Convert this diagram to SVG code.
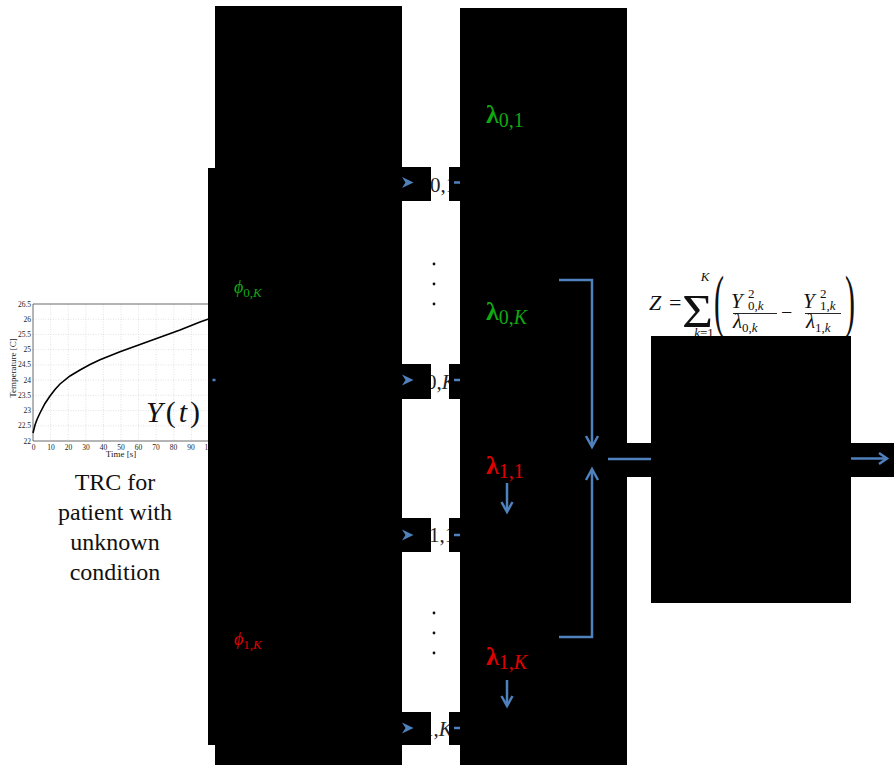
<svg xmlns="http://www.w3.org/2000/svg" width="894" height="765" viewBox="0 0 894 765">
<style>
.blk{fill:#000}
.bl{stroke:#4F81BD;stroke-width:2.5;fill:none;stroke-linecap:butt}
.blf{fill:#4F81BD}
.grid{stroke:#cfcfcf;stroke-width:0.6;stroke-dasharray:1 1.5}
.tick{font-size:7.5px;fill:#222}
.g{fill:#12a812}
.r{fill:#e00000}
.lab{font-size:21px;fill:#222}
</style>
<rect width="894" height="765" fill="#fff"/>

<g id="chart" font-family="'Liberation Serif', 'Times New Roman', serif">
  <g class="grid">
    <line x1="50.6" y1="304" x2="50.6" y2="441"/>
    <line x1="68.2" y1="304" x2="68.2" y2="441"/>
    <line x1="85.8" y1="304" x2="85.8" y2="441"/>
    <line x1="103.4" y1="304" x2="103.4" y2="441"/>
    <line x1="121" y1="304" x2="121" y2="441"/>
    <line x1="138.6" y1="304" x2="138.6" y2="441"/>
    <line x1="156.2" y1="304" x2="156.2" y2="441"/>
    <line x1="173.8" y1="304" x2="173.8" y2="441"/>
    <line x1="191.4" y1="304" x2="191.4" y2="441"/>
    <line x1="33" y1="319.2" x2="210" y2="319.2"/>
    <line x1="33" y1="334.4" x2="210" y2="334.4"/>
    <line x1="33" y1="349.7" x2="210" y2="349.7"/>
    <line x1="33" y1="364.9" x2="210" y2="364.9"/>
    <line x1="33" y1="380.1" x2="210" y2="380.1"/>
    <line x1="33" y1="395.3" x2="210" y2="395.3"/>
    <line x1="33" y1="410.6" x2="210" y2="410.6"/>
    <line x1="33" y1="425.8" x2="210" y2="425.8"/>
  </g>
  <path d="M33,304 H210 M33,304 V441 H210" stroke="#444" stroke-width="0.8" fill="none"/>
  <path d="M33,433 L35,425 L37,419.5 L40,413 L45,403.5 L50,396 L55,389.5 L60,384 L70,376 L80,370 L90,364.5 L100,359.8 L120,351.8 L140,344.5 L160,337.3 L180,330 L200,322 L210,318.5" stroke="#000" stroke-width="1.6" fill="none"/>
  <g class="tick" text-anchor="end">
    <text x="31" y="306.5">26.5</text>
    <text x="31" y="321.7">26</text>
    <text x="31" y="336.9">25.5</text>
    <text x="31" y="352.2">25</text>
    <text x="31" y="367.4">24.5</text>
    <text x="31" y="382.6">24</text>
    <text x="31" y="397.8">23.5</text>
    <text x="31" y="413.1">23</text>
    <text x="31" y="428.3">22.5</text>
    <text x="31" y="443.5">22</text>
  </g>
  <g class="tick" text-anchor="middle">
    <text x="33.5" y="449.5">0</text>
    <text x="51" y="449.5">10</text>
    <text x="68.5" y="449.5">20</text>
    <text x="86" y="449.5">30</text>
    <text x="103.5" y="449.5">40</text>
    <text x="121" y="449.5">50</text>
    <text x="138.5" y="449.5">60</text>
    <text x="156" y="449.5">70</text>
    <text x="173.5" y="449.5">80</text>
    <text x="191" y="449.5">90</text>
    <text x="210" y="449.5">100</text>
  </g>
  <text x="121" y="457" font-size="9" fill="#222" text-anchor="middle">Time [s]</text>
  <text transform="translate(16,368) rotate(-90)" font-size="9" fill="#222" text-anchor="middle">Temperature [C]</text>
  <text x="146" y="422" font-size="30" fill="#111" textLength="54" lengthAdjust="spacing"><tspan font-style="italic">Y</tspan>(<tspan font-style="italic">t</tspan>)</text>
</g>

<g id="caption" font-family="'Liberation Serif', 'Times New Roman', serif" font-size="24" fill="#111" text-anchor="middle">
  <text x="115" y="490">TRC for</text>
  <text x="115" y="520">patient with</text>
  <text x="115" y="550">unknown</text>
  <text x="115" y="580">condition</text>
</g>

<g id="partial-labels" class="lab" font-family="'Liberation Serif', 'Times New Roman', serif">
  <text x="430" y="192">0,1</text>
  <text x="426" y="389">0,<tspan font-style="italic">K</tspan></text>
  <text x="429" y="542">1,1</text>
  <text x="423" y="736">1,<tspan font-style="italic">K</tspan></text>
</g>

<g id="formula" font-family="'Liberation Serif', 'Times New Roman', serif" fill="#111">
  <text font-size="22"><tspan x="649" y="310" font-style="italic">Z</tspan><tspan x="669" y="310">=</tspan></text>
  <text x="682" y="327" font-size="46" textLength="31" lengthAdjust="spacingAndGlyphs">Σ</text>
  <text x="705" y="281" font-size="13" font-style="italic" text-anchor="middle">K</text>
  <text x="704" y="337" font-size="13" text-anchor="middle"><tspan font-style="italic">k</tspan>=1</text>
  <text x="714" y="324" font-size="70" textLength="10" lengthAdjust="spacingAndGlyphs">(</text>
  <text x="731" y="308" font-size="21" font-style="italic">Y<tspan x="748" y="298" font-size="13" font-style="normal">2</tspan><tspan x="748" y="310" font-size="13" font-style="normal">0,<tspan font-style="italic">k</tspan></tspan></text>
  <line x1="733" y1="313.5" x2="777" y2="313.5" stroke="#111" stroke-width="0.9"/>
  <text x="733" y="328" font-size="21" font-style="italic">λ<tspan font-size="13" font-style="normal" dy="4">0,<tspan font-style="italic">k</tspan></tspan></text>
  <text x="781" y="319" font-size="20">−</text>
  <text x="803" y="308" font-size="21" font-style="italic">Y<tspan x="820" y="298" font-size="13" font-style="normal">2</tspan><tspan x="820" y="310" font-size="13" font-style="normal">1,<tspan font-style="italic">k</tspan></tspan></text>
  <line x1="805" y1="313.5" x2="841" y2="313.5" stroke="#111" stroke-width="0.9"/>
  <text x="806" y="328" font-size="21" font-style="italic">λ<tspan font-size="13" font-style="normal" dy="4">1,<tspan font-style="italic">k</tspan></tspan></text>
  <text x="845" y="324" font-size="70" textLength="10" lengthAdjust="spacingAndGlyphs">)</text>
</g>

<g id="node-phi" font-family="'Liberation Serif', 'Times New Roman', serif">
  <rect class="blk" x="215" y="6" width="187" height="759"/>
  <rect class="blk" x="208" y="168" width="194" height="577"/>
  <text x="234" y="293" class="g" font-size="18" font-style="italic">ϕ<tspan font-size="13" dy="4" font-style="normal">0,<tspan font-style="italic">K</tspan></tspan></text>
  <text x="234" y="645" class="r" font-size="18" font-style="italic">ϕ<tspan font-size="13" dy="4" font-style="normal">1,<tspan font-style="italic">K</tspan></tspan></text>
</g>

<g id="node-lambda" font-family="'Liberation Serif', 'Times New Roman', serif">
  <rect class="blk" x="460" y="8" width="167" height="757"/>
  <text x="486" y="123" class="g" font-size="26" font-weight="bold">λ<tspan font-size="20" font-weight="normal" dy="4">0,1</tspan></text>
  <text x="486" y="320" class="g" font-size="26" font-weight="bold">λ<tspan font-size="20" font-weight="normal" dy="4">0,<tspan font-style="italic">K</tspan></tspan></text>
  <text x="486" y="474" class="r" font-size="26" font-weight="bold">λ<tspan font-size="20" font-weight="normal" dy="4">1,1</tspan></text>
  <text x="486" y="665" class="r" font-size="26" font-weight="bold">λ<tspan font-size="20" font-weight="normal" dy="4">1,<tspan font-style="italic">K</tspan></tspan></text>
</g>

<g id="node-sum">
  <rect class="blk" x="651" y="336" width="200" height="267"/>
</g>

<g id="ports">
  <rect class="blk" x="402" y="167" width="29" height="34"/>
  <rect class="blk" x="449" y="167" width="11" height="34"/>
  <rect class="blk" x="402" y="364" width="29" height="35"/>
  <rect class="blk" x="449" y="364" width="11" height="35"/>
  <rect class="blk" x="402" y="518" width="29" height="34"/>
  <rect class="blk" x="449" y="518" width="11" height="34"/>
  <rect class="blk" x="402" y="712" width="29" height="33"/>
  <rect class="blk" x="449" y="712" width="11" height="33"/>
  <rect class="blk" x="627" y="443" width="24" height="34"/>
  <rect class="blk" x="851" y="443" width="43" height="34"/>
</g>

<g id="dots" fill="#111">
  <circle cx="434" cy="264" r="1.4"/>
  <circle cx="434" cy="284" r="1.4"/>
  <circle cx="434" cy="304" r="1.4"/>
  <circle cx="434" cy="613" r="1.4"/>
  <circle cx="434" cy="633" r="1.4"/>
  <circle cx="434" cy="653" r="1.4"/>
</g>

<g id="connectors">
  <line class="bl" x1="212.5" y1="380" x2="215.5" y2="380"/>
  <path class="blf" d="M402,177 L413.5,182.5 L402,188 L405.5,182.5 Z"/>
  <path class="blf" d="M402,374.5 L413.5,380 L402,385.5 L405.5,380 Z"/>
  <path class="blf" d="M402,529.5 L413.5,535 L402,540.5 L405.5,535 Z"/>
  <path class="blf" d="M402,722.5 L413.5,728 L402,733.5 L405.5,728 Z"/>
  <line class="bl" x1="454" y1="182.5" x2="460" y2="182.5"/>
  <line class="bl" x1="454" y1="380" x2="460" y2="380"/>
  <line class="bl" x1="454" y1="535" x2="460" y2="535"/>
  <line class="bl" x1="454" y1="728" x2="460" y2="728"/>
  <path class="bl" d="M559,280 H592 V446"/>
  <path class="bl" d="M586,436 L592,447 L598,436"/>
  <path class="bl" d="M559,637 H592 V470"/>
  <path class="bl" d="M586,480 L592,469 L598,480"/>
  <path class="bl" d="M507,483 V511"/>
  <path class="bl" d="M501.5,502 L507,512 L512.5,502"/>
  <path class="bl" d="M507,680 V705"/>
  <path class="bl" d="M501.5,696 L507,706 L512.5,696"/>
  <line class="bl" x1="608" y1="459" x2="651" y2="459"/>
  <line class="bl" x1="851" y1="458.5" x2="886" y2="458.5"/>
  <path class="bl" d="M879,453 L887,458.5 L879,464"/>
</g>
</svg>
